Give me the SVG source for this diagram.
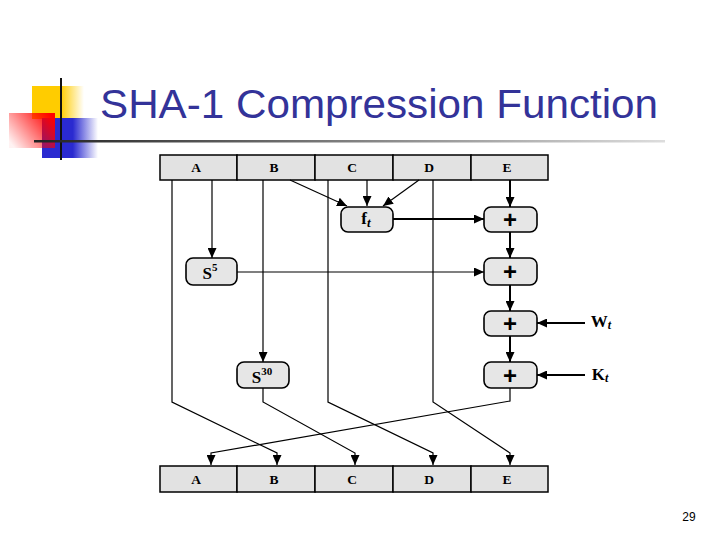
<svg xmlns="http://www.w3.org/2000/svg" width="720" height="540" viewBox="0 0 720 540">
<defs>
<marker id="ah" markerWidth="10" markerHeight="9" refX="10" refY="4.5" orient="auto" markerUnits="userSpaceOnUse"><path d="M0,0 L10,4.5 L0,9 z" fill="#000"/></marker>
<linearGradient id="red" x1="1" y1="0.2" x2="0" y2="0.8"><stop offset="0" stop-color="#ff0000"/><stop offset="1" stop-color="#ff0000" stop-opacity="0.05"/></linearGradient>
<linearGradient id="blue" x1="0" y1="0" x2="1" y2="0"><stop offset="0.55" stop-color="#2a2ad0"/><stop offset="1" stop-color="#2a2ad0" stop-opacity="0"/></linearGradient>
<linearGradient id="yel" x1="0" y1="0" x2="1" y2="0"><stop offset="0.55" stop-color="#ffcc00"/><stop offset="1" stop-color="#ffcc00" stop-opacity="0"/></linearGradient>
<linearGradient id="hl" x1="0" y1="0" x2="1" y2="0"><stop offset="0" stop-color="#222"/><stop offset="1" stop-color="#ddd"/></linearGradient>
<style>
.cell{fill:#e2e2e2;stroke:#000;stroke-width:1.5}
.box{fill:#e6e6e6;stroke:#000;stroke-width:1.6}
.lt{font-family:"Liberation Serif",serif;font-weight:bold;font-size:13.5px;text-anchor:middle;fill:#000}
.bx{font-family:"Liberation Serif",serif;font-weight:bold;font-size:17px;text-anchor:middle;fill:#000}
.pl{font-family:"Liberation Sans",sans-serif;font-weight:bold;font-size:24px;text-anchor:middle;fill:#000}
.c{fill:none;stroke:#000;stroke-width:1.2}
.t{fill:none;stroke:#000;stroke-width:2}
</style>
</defs>
<g id="deco">
<rect x="32" y="86" width="52" height="33" fill="url(#yel)"/>
<rect x="42" y="118" width="56" height="40" fill="url(#blue)"/>
<rect x="9" y="113" width="46" height="35" fill="url(#red)"/>
<line x1="61" y1="78" x2="61" y2="160" stroke="#111" stroke-width="2"/>
<rect x="34" y="140" width="631" height="2.5" fill="url(#hl)"/>
</g>
<g id="title"><text x="100" y="118" font-family="Liberation Sans, sans-serif" font-size="41" fill="#333399" textLength="558" lengthAdjust="spacingAndGlyphs">SHA-1 Compression Function</text></g>
<g id="reg-top">
<rect class="cell" x="160" y="155" width="77" height="25"/><rect class="cell" x="237" y="155" width="78" height="25"/><rect class="cell" x="315" y="155" width="78" height="25"/><rect class="cell" x="393" y="155" width="78" height="25"/><rect class="cell" x="471" y="155" width="77" height="25"/>
<text class="lt" x="196" y="172">A</text><text class="lt" x="274" y="172">B</text><text class="lt" x="352" y="172">C</text><text class="lt" x="429" y="172">D</text><text class="lt" x="507" y="172">E</text>
</g>
<g id="reg-bot">
<rect class="cell" x="160" y="466" width="77" height="26"/><rect class="cell" x="237" y="466" width="78" height="26"/><rect class="cell" x="315" y="466" width="78" height="26"/><rect class="cell" x="393" y="466" width="78" height="26"/><rect class="cell" x="471" y="466" width="77" height="26"/>
<text class="lt" x="196" y="484">A</text><text class="lt" x="274" y="484">B</text><text class="lt" x="352" y="484">C</text><text class="lt" x="429" y="484">D</text><text class="lt" x="507" y="484">E</text>
</g>
<g id="ft"><rect class="box" x="341" y="207" width="52" height="25" rx="7"/><text class="bx" x="366" y="224">f<tspan font-style="italic" font-size="13" dy="3">t</tspan></text></g>
<g id="s5"><rect class="box" x="186" y="258" width="51" height="27" rx="7"/><text class="bx" x="210" y="279">S<tspan font-size="11" dy="-8">5</tspan></text></g>
<g id="s30"><rect class="box" x="237" y="362" width="52" height="26" rx="7"/><text class="bx" x="262" y="383">S<tspan font-size="11" dy="-8">30</tspan></text></g>
<g id="add1"><rect class="box" x="484" y="207" width="53" height="25" rx="7"/><text class="pl" x="510" y="228">+</text></g>
<g id="add2"><rect class="box" x="484" y="258" width="53" height="27" rx="7"/><text class="pl" x="510" y="280">+</text></g>
<g id="add3"><rect class="box" x="484" y="311" width="53" height="25" rx="7"/><text class="pl" x="510" y="332">+</text></g>
<g id="add4"><rect class="box" x="484" y="362" width="53" height="26" rx="7"/><text class="pl" x="510" y="384">+</text></g>
<g id="wt"><text class="bx" x="601" y="327" font-size="15">W<tspan font-style="italic" font-size="12" dy="2">t</tspan></text></g>
<g id="kt"><text class="bx" x="600" y="380" font-size="15">K<tspan font-style="italic" font-size="12" dy="2">t</tspan></text></g>
<g id="connectors">
<polyline class="c" points="172,180 172,402 277,453 277,465" marker-end="url(#ah)"/>
<polyline class="c" points="212,180 212,258" marker-end="url(#ah)"/>
<polyline class="c" points="263,180 263,362" marker-end="url(#ah)"/>
<polyline class="c" points="263,388 263,402 355,453 355,465" marker-end="url(#ah)"/>
<polyline class="c" points="328,180 328,402 433,453 433,465" marker-end="url(#ah)"/>
<polyline class="c" points="433,180 433,402 510,453 510,465" marker-end="url(#ah)"/>
<polyline class="c" points="510,388 510,401 211,453 211,465" marker-end="url(#ah)"/>
<line class="c" x1="290" y1="180" x2="347" y2="206" marker-end="url(#ah)"/>
<line class="c" x1="367" y1="180" x2="367" y2="206" marker-end="url(#ah)"/>
<line class="c" x1="419" y1="180" x2="383" y2="206" marker-end="url(#ah)"/>
<line class="t" x1="393" y1="219" x2="484" y2="219" marker-end="url(#ah)"/>
<line class="c" x1="237" y1="272" x2="484" y2="272" marker-end="url(#ah)"/>
<line class="t" x1="510" y1="180" x2="510" y2="207" marker-end="url(#ah)"/>
<line class="t" x1="510" y1="232" x2="510" y2="258" marker-end="url(#ah)"/>
<line class="t" x1="510" y1="285" x2="510" y2="311" marker-end="url(#ah)"/>
<line class="t" x1="510" y1="336" x2="510" y2="362" marker-end="url(#ah)"/>
<line class="t" x1="585" y1="323" x2="537" y2="323" marker-end="url(#ah)"/>
<line class="t" x1="585" y1="375" x2="537" y2="375" marker-end="url(#ah)"/>
</g>
<g id="page"><text x="689" y="521" font-family="Liberation Sans, sans-serif" font-size="12" text-anchor="middle" fill="#000">29</text></g>
</svg>
